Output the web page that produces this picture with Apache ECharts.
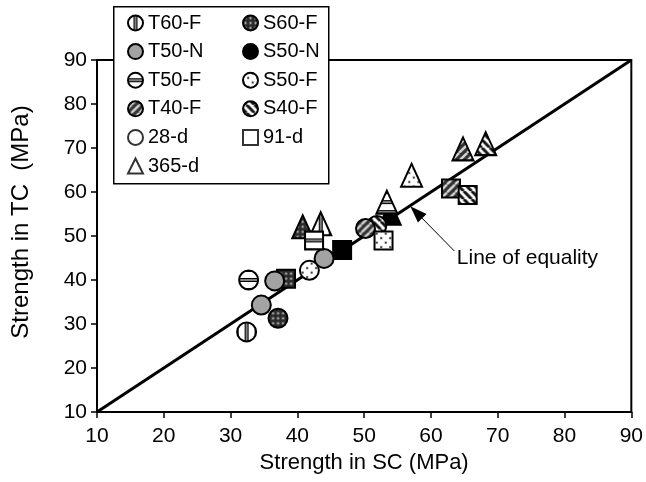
<!DOCTYPE html>
<html><head><meta charset="utf-8">
<script src="https://cdn.jsdelivr.net/npm/echarts@6/dist/echarts.min.js"></script>
<style>html,body{margin:0;padding:0;background:#fff}#c{width:646px;height:482px}</style>
</head><body><div id="c"></div>
<script>
// ---------- data ----------
const xTicks = [10, 20, 30, 40, 50, 60, 70, 80, 90];
const yTicks = [10, 20, 30, 40, 50, 60, 70, 80, 90];
const equality = [[10, 10], [90, 90]];
const materials = ['T60-F', 'T50-N', 'T50-F', 'T40-F', 'S60-F', 'S50-N', 'S50-F', 'S40-F'];
const ages = ['28-d', '91-d', '365-d'];
// [strength in SC, strength in TC, age]
const T60F = [[32.4, 28.2, '28-d'], [43.5, 52.8, '365-d']];
const T50N = [[34.6, 34.3, '28-d'], [36.6, 39.8, '28-d'], [44.0, 44.9, '28-d']];
const T50F = [[32.7, 40.0, '28-d'], [42.5, 49.0, '91-d'], [53.4, 57.7, '365-d']];
const T40F = [[50.2, 51.7, '28-d'], [63.0, 60.8, '91-d'], [64.8, 69.8, '365-d']];
const S60F = [[37.1, 31.3, '28-d'], [38.3, 40.3, '91-d'], [40.8, 52.1, '365-d']];
const S50N = [[46.7, 46.8, '91-d'], [53.9, 55.2, '365-d']];
const S50F = [[41.8, 42.2, '28-d'], [52.9, 49.0, '91-d'], [57.1, 63.8, '365-d']];
const S40F = [[51.9, 52.4, '28-d'], [65.5, 59.3, '91-d'], [68.2, 71.0, '365-d']];
const arrowFrom = [63.5, 46.6];
const arrowTo = [57.8, 55.4];
const noteAt = [63.8, 45.0];
const noteText = 'Line of equality';
const legendCol1 = ['T60-F', 'T50-N', 'T50-F', 'T40-F', '28-d', '365-d'];
const legendCol2 = ['S60-F', 'S50-N', 'S50-F', 'S40-F', '91-d'];

// ---------- styling ----------
const FONT = 'Liberation Sans, Arial, sans-serif';
const pointsOf = {'T60-F': T60F, 'T50-N': T50N, 'T50-F': T50F, 'T40-F': T40F,
                  'S60-F': S60F, 'S50-N': S50N, 'S50-F': S50F, 'S40-F': S40F};
const ageSymbol = {'28-d': 'circle', '91-d': 'rect', '365-d': 'triangle'};
const ageSize = {'28-d': [19, 19], '91-d': [18, 18], '365-d': [21, 23]};
const layerOrder = [
  ['S60-F', '91-d'], ['T60-F', '28-d'], ['T50-F', '28-d'], ['S60-F', '28-d'],
  ['S50-N', '91-d'], ['T50-N', '28-d'], ['S50-F', '28-d'], ['T60-F', '365-d'],
  ['S60-F', '365-d'], ['T50-F', '91-d'], ['S50-N', '365-d'], ['T50-F', '365-d'],
  ['S40-F', '28-d'], ['T40-F', '28-d'], ['S50-F', '91-d'], ['S50-F', '365-d'],
  ['T40-F', '91-d'], ['S40-F', '91-d'], ['T40-F', '365-d'], ['S40-F', '365-d']
];

const tiles = {};
function makeTile(mat) {
  if (tiles[mat]) return tiles[mat];
  const c = document.createElement('canvas');
  let ctx;
  const stripe = (size, bg, fg, lw, dir) => {
    c.width = size; c.height = size; ctx = c.getContext('2d');
    ctx.fillStyle = bg; ctx.fillRect(0, 0, size, size);
    ctx.strokeStyle = fg; ctx.lineWidth = lw;
    for (let k = -1; k <= 1; k++) {
      ctx.beginPath();
      if (dir === '/') { ctx.moveTo(k * size, size); ctx.lineTo(k * size + size, 0); }
      else { ctx.moveTo(k * size, 0); ctx.lineTo(k * size + size, size); }
      ctx.stroke();
    }
  };
  if (mat === 'T60-F') {
    c.width = 10; c.height = 10; ctx = c.getContext('2d');
    ctx.fillStyle = '#fff'; ctx.fillRect(0, 0, 10, 10);
    ctx.fillStyle = '#000'; ctx.fillRect(3, 0, 1.6, 10); ctx.fillRect(5.4, 0, 1.6, 10);
    ctx.fillStyle = '#aaa'; ctx.fillRect(4.6, 0, 0.8, 10);
  } else if (mat === 'T50-F') {
    c.width = 10; c.height = 10; ctx = c.getContext('2d');
    ctx.fillStyle = '#fff'; ctx.fillRect(0, 0, 10, 10);
    ctx.fillStyle = '#000'; ctx.fillRect(0, 3, 10, 1.6); ctx.fillRect(0, 5.4, 10, 1.6);
    ctx.fillStyle = '#aaa'; ctx.fillRect(0, 4.6, 10, 0.8);
  } else if (mat === 'T40-F') {
    stripe(8, '#333333', '#d8d8d8', 2.4, '/');
  } else if (mat === 'S40-F') {
    stripe(8, '#ffffff', '#111111', 3, '\\');
  } else if (mat === 'S60-F') {
    c.width = 5; c.height = 5; ctx = c.getContext('2d');
    ctx.fillStyle = '#2a2a2a'; ctx.fillRect(0, 0, 5, 5);
    ctx.fillStyle = '#c8c8c8'; ctx.fillRect(1.5, 1.5, 2, 2);
  } else if (mat === 'S50-F') {
    c.width = 9; c.height = 9; ctx = c.getContext('2d');
    ctx.fillStyle = '#fff'; ctx.fillRect(0, 0, 9, 9);
    ctx.fillStyle = '#333'; ctx.fillRect(1.2, 1.2, 2, 2); ctx.fillRect(5.7, 5.7, 2, 2);
  } else {
    return null;
  }
  tiles[mat] = c;
  return c;
}
const solid = {'T50-N': '#a3a3a3', 'S50-N': '#000000'};
function symbolFill(mat, w, h) {
  if (solid[mat]) return solid[mat];
  const t = makeTile(mat);
  return {image: t, repeat: 'repeat', scaleX: 2 / w, scaleY: 2 / h, x: -t.width / w, y: -t.height / h};
}
function legendFill(mat, s) {
  if (solid[mat]) return solid[mat];
  const t = makeTile(mat);
  return {image: t, repeat: 'repeat', x: s / 2 - t.width / 2, y: s / 2 - t.height / 2};
}

const ICON = 15;
function legendItem(name) {
  if (ageSymbol[name]) {
    return {name, icon: ageSymbol[name],
      itemStyle: {color: '#fff', borderColor: '#000', borderWidth: 2}};
  }
  return {name, icon: 'circle',
    itemStyle: {color: legendFill(name, ICON), borderColor: '#000', borderWidth: 2}};
}

const series = [];
series.push({
  type: 'line', name: 'equality', data: equality, symbol: 'none', silent: true, z: 2,
  lineStyle: {color: '#000', width: 3},
  markLine: {
    silent: true, symbol: ['none', 'triangle'], symbolSize: [12, 17],
    lineStyle: {color: '#000', width: 1, type: 'solid'}, label: {show: false},
    data: [[{coord: arrowFrom}, {coord: arrowTo}]]
  },
  markPoint: {
    silent: true, symbol: 'circle', symbolSize: 1, itemStyle: {color: 'rgba(0,0,0,0)'},
    label: {show: true, position: 'right', distance: 0, formatter: noteText,
            color: '#000', fontSize: 21, fontFamily: FONT},
    data: [{coord: noteAt}]
  }
});
layerOrder.forEach(([mat, age]) => {
  const size = ageSize[age];
  const pts = pointsOf[mat].filter(p => p[2] === age).map(p => ({
    value: [p[0], p[1]], symbol: ageSymbol[age], symbolSize: size,
    itemStyle: {color: symbolFill(mat, size[0], size[1]), borderColor: '#000', borderWidth: 2}
  }));
  series.push({type: 'scatter', name: mat, data: pts, z: 3, silent: true,
    itemStyle: {borderColor: '#000', borderWidth: 2, opacity: 1}});
});
ages.forEach(age => {
  series.push({type: 'scatter', name: age, data: [], symbol: ageSymbol[age],
    itemStyle: {color: '#fff', borderColor: '#000', borderWidth: 2}});
});

const legendBase = {
  orient: 'vertical', top: 13, itemWidth: ICON, itemHeight: ICON, itemGap: 8.6, padding: 0,
  selectedMode: false, textStyle: {fontSize: 20, color: '#000', fontFamily: FONT}
};

const axisCommon = {
  type: 'value', splitLine: {show: false},
  axisLine: {show: true, onZero: false, lineStyle: {color: '#000', width: 2}},
  axisTick: {show: true, inside: false, length: 6, lineStyle: {color: '#000', width: 1.5}},
  axisLabel: {fontSize: 21, color: '#000', fontFamily: FONT, margin: 10},
  nameLocation: 'middle'
};

const chart = echarts.init(document.getElementById('c'), null, {renderer: 'canvas'});
chart.setOption({
  animation: false,
  backgroundColor: '#fff',
  grid: {left: 97, top: 60, width: 540, height: 352, show: true, borderColor: '#000', borderWidth: 2,
         backgroundColor: 'transparent'},
  xAxis: Object.assign({}, axisCommon, {
    min: xTicks[0], max: xTicks[xTicks.length - 1], interval: xTicks[1] - xTicks[0],
    axisLabel: Object.assign({}, axisCommon.axisLabel, {margin: 14}),
    name: 'Strength in SC (MPa)', nameGap: 38,
    nameTextStyle: {fontSize: 22, color: '#000', fontFamily: FONT}
  }),
  yAxis: Object.assign({}, axisCommon, {
    min: yTicks[0], max: yTicks[yTicks.length - 1], interval: yTicks[1] - yTicks[0],
    name: 'Strength in TC  (MPa)', nameGap: 64,
    nameTextStyle: {fontSize: 24, color: '#000', fontFamily: FONT, padding: [0, 0, 0, 28]}
  }),
  legend: [
    Object.assign({}, legendBase, {left: 127, data: legendCol1.map(legendItem)}),
    Object.assign({}, legendBase, {left: 242, data: legendCol2.map(legendItem)})
  ],
  graphic: [{
    type: 'rect', left: 113, top: 6, z: 1, silent: true,
    shape: {width: 215, height: 177},
    style: {fill: '#fff', stroke: '#000', lineWidth: 1.5}
  }],
  series
});
</script>
</body></html>
